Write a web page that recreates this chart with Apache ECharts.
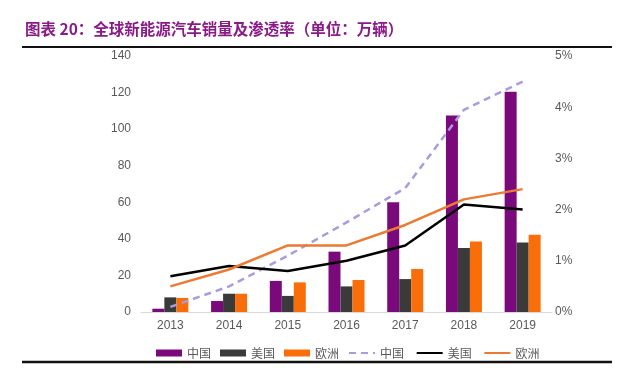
<!DOCTYPE html>
<html><head><meta charset="utf-8">
<script src="https://cdn.jsdelivr.net/npm/echarts@6/dist/echarts.min.js"></script>
<style>html,body{margin:0;padding:0;background:#fff}#c{width:640px;height:374px}</style>
</head><body><div id="c"></div>
<script>
var years = ['2013','2014','2015','2016','2017','2018','2019'];
var chinaSales = [1.8, 6, 17, 33, 60, 107.5, 120.5];
var usSales = [8, 10, 8.8, 14, 18, 35, 38];
var euSales = [7.7, 10, 16.2, 17.5, 23.5, 38.5, 42.3];
var chinaRate = [0.1, 0.5, 1.1, 1.75, 2.42, 3.95, 4.5];
var usRate = [0.7, 0.9, 0.8, 1.0, 1.3, 2.1, 2.0];
var euRate = [0.5, 0.83, 1.3, 1.3, 1.7, 2.2, 2.4];
var leftTicks = {min: 0, max: 140, interval: 20};
var rightTicks = {min: 0, max: 5, interval: 1};

var chart = echarts.init(document.getElementById('c'));
var txt = {color: '#595959', fontSize: 12, fontFamily: 'Liberation Sans, Arial, sans-serif'};
var hideSym = {opacity: 0};
chart.setOption({
  animation: false,
  title: {
    text: '图表 20：全球新能源汽车销量及渗透率（单位：万辆）',
    left: 20, top: 16,
    textStyle: {color: '#8B1A89', fontSize: 15.5, fontWeight: 'bold', fontFamily: 'Noto Sans CJK SC'}
  },
  graphic: [
    {type: 'line', shape: {x1: 22, y1: 47, x2: 612, y2: 47}, style: {stroke: '#111', lineWidth: 2}},
    {type: 'line', shape: {x1: 22, y1: 362, x2: 612, y2: 362}, style: {stroke: '#111', lineWidth: 2.5}}
  ],
  grid: {left: 141, right: 88, top: 56, bottom: 62},
  legend: {
    top: 342, left: 151, itemGap: 9, itemWidth: 26, itemHeight: 7,
    textStyle: {color: '#595959', fontSize: 12, fontFamily: 'Noto Sans CJK SC'},
    data: [
      {name: '中国', icon: 'rect'}, {name: '美国', icon: 'rect'}, {name: '欧洲', icon: 'rect'},
      {name: '中国 ', itemStyle: hideSym}, {name: '美国 ', itemStyle: hideSym}, {name: '欧洲 ', itemStyle: hideSym}
    ]
  },
  xAxis: {
    type: 'category', data: years,
    axisLine: {lineStyle: {color: '#D9D9D9'}},
    axisTick: {show: false},
    axisLabel: Object.assign({margin: 8}, txt)
  },
  yAxis: [
    {type: 'value', min: leftTicks.min, max: leftTicks.max, interval: leftTicks.interval,
     splitLine: {show: false}, axisLine: {show: false}, axisTick: {show: false},
     axisLabel: Object.assign({margin: 10}, txt)},
    {type: 'value', min: rightTicks.min, max: rightTicks.max, interval: rightTicks.interval,
     splitLine: {show: false}, axisLine: {show: false}, axisTick: {show: false},
     axisLabel: Object.assign({margin: 3, formatter: '{value}%'}, txt)}
  ],
  series: [
    {name: '中国', type: 'bar', data: chinaSales, barWidth: 12, barGap: '0%', itemStyle: {color: '#7A0A7C'}},
    {name: '美国', type: 'bar', data: usSales, barWidth: 12, barGap: '0%', itemStyle: {color: '#3A3A3A'}},
    {name: '欧洲', type: 'bar', data: euSales, barWidth: 12, barGap: '0%', itemStyle: {color: '#FA6E0A'}},
    {name: '中国 ', type: 'line', yAxisIndex: 1, data: chinaRate, symbol: 'none',
     lineStyle: {color: '#A99BE0', width: 2.5, type: [7, 5]}, itemStyle: {color: '#A99BE0'}},
    {name: '美国 ', type: 'line', yAxisIndex: 1, data: usRate, symbol: 'none',
     lineStyle: {color: '#000000', width: 2.5}, itemStyle: {color: '#000000'}},
    {name: '欧洲 ', type: 'line', yAxisIndex: 1, data: euRate, symbol: 'none',
     lineStyle: {color: '#EC7A30', width: 2.5}, itemStyle: {color: '#EC7A30'}}
  ]
});
</script></body></html>
